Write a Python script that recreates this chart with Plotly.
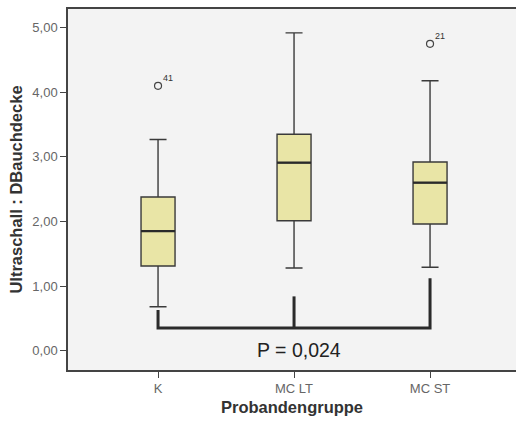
import plotly.graph_objects as go

# Group statistics for the ultrasound abdominal-wall measurement
groups = ["K", "MC LT", "MC ST"]
q1 = [1.31, 2.01, 1.96]
median = [1.85, 2.91, 2.60]
q3 = [2.38, 3.35, 2.92]
lower_whisker = [0.68, 1.28, 1.29]
upper_whisker = [3.27, 4.92, 4.18]

# Outlier cases (group index, value, case number)
outlier_group = [0, 2]
outlier_value = [4.10, 4.75]
outlier_case = ["41", "21"]

# Significance bracket: bottom level and start height above each group
bracket_level = 0.35
bracket_start = [0.63, 0.84, 1.12]
p_text = "P = 0,024"

box_fill = "#e9e5a6"
dark = "#2a2a2a"
half_w = 0.125

fig = go.Figure()

for i, g in enumerate(groups):
    fig.add_trace(go.Box(
        x=[i], q1=[q1[i]], median=[median[i]], q3=[q3[i]],
        lowerfence=[lower_whisker[i]], upperfence=[upper_whisker[i]],
        width=2 * half_w, whiskerwidth=0.5,
        fillcolor=box_fill, line=dict(color="#3a3a3a", width=1.4),
        boxpoints=False, showlegend=False, hoverinfo="skip",
    ))
    # heavier median bar
    fig.add_trace(go.Scatter(
        x=[i - half_w, i + half_w], y=[median[i], median[i]],
        mode="lines", line=dict(color=dark, width=2.2),
        showlegend=False, hoverinfo="skip",
    ))

fig.add_trace(go.Scatter(
    x=outlier_group, y=outlier_value, mode="markers",
    marker=dict(symbol="circle-open", size=7, color="#444", line=dict(width=1.2)),
    showlegend=False, hoverinfo="skip",
))
for gi, v, c in zip(outlier_group, outlier_value, outlier_case):
    fig.add_annotation(x=gi, y=v, text=c, showarrow=False,
                       xanchor="left", yanchor="bottom", xshift=3, yshift=1,
                       font=dict(size=9, color="#333", family="Arial"))

# bracket: outer U-shape as one path, plus the middle drop
last = len(groups) - 1
outer = (f"M 0,{bracket_start[0]} L 0,{bracket_level} "
         f"L {last},{bracket_level} L {last},{bracket_start[last]}")
fig.add_shape(type="path", path=outer, line=dict(color=dark, width=3))
for i in range(1, last):
    fig.add_shape(type="line", x0=i, x1=i, y0=bracket_level, y1=bracket_start[i],
                  line=dict(color=dark, width=3))
fig.add_annotation(x=1.04, y=0.01, text=p_text, showarrow=False,
                   font=dict(size=19.5, color="#222", family="Arial"))

axis_font = dict(family="Arial", size=13, color="#666")
title_font = dict(family="Arial", size=16.5, color="#333")
fig.update_layout(
    width=516, height=425,
    margin=dict(l=68, r=0, t=9, b=55),
    paper_bgcolor="white", plot_bgcolor="#f3f3f3",
    separators=",.",
    xaxis=dict(
        range=[-0.662, 2.632], tickmode="array", tickvals=list(range(len(groups))),
        ticktext=groups, ticks="outside", ticklen=6, tickcolor="#444",
        showline=True, linecolor="#444", linewidth=1.5, mirror=True,
        showgrid=False, zeroline=False, tickfont=axis_font,
        title=dict(text="<b>Probandengruppe</b>", standoff=6, font=title_font),
    ),
    yaxis=dict(
        range=[-0.30, 5.29], tickvals=[0, 1, 2, 3, 4, 5], tickformat=".2f",
        ticks="outside", ticklen=6, tickcolor="#444",
        showline=True, linecolor="#444", linewidth=1.5,
        showgrid=False, zeroline=False, tickfont=axis_font,
        title=dict(text="<b>Ultraschall : DBauchdecke</b>", standoff=6, font=title_font),
    ),
)

fig.write_html("out.html")
